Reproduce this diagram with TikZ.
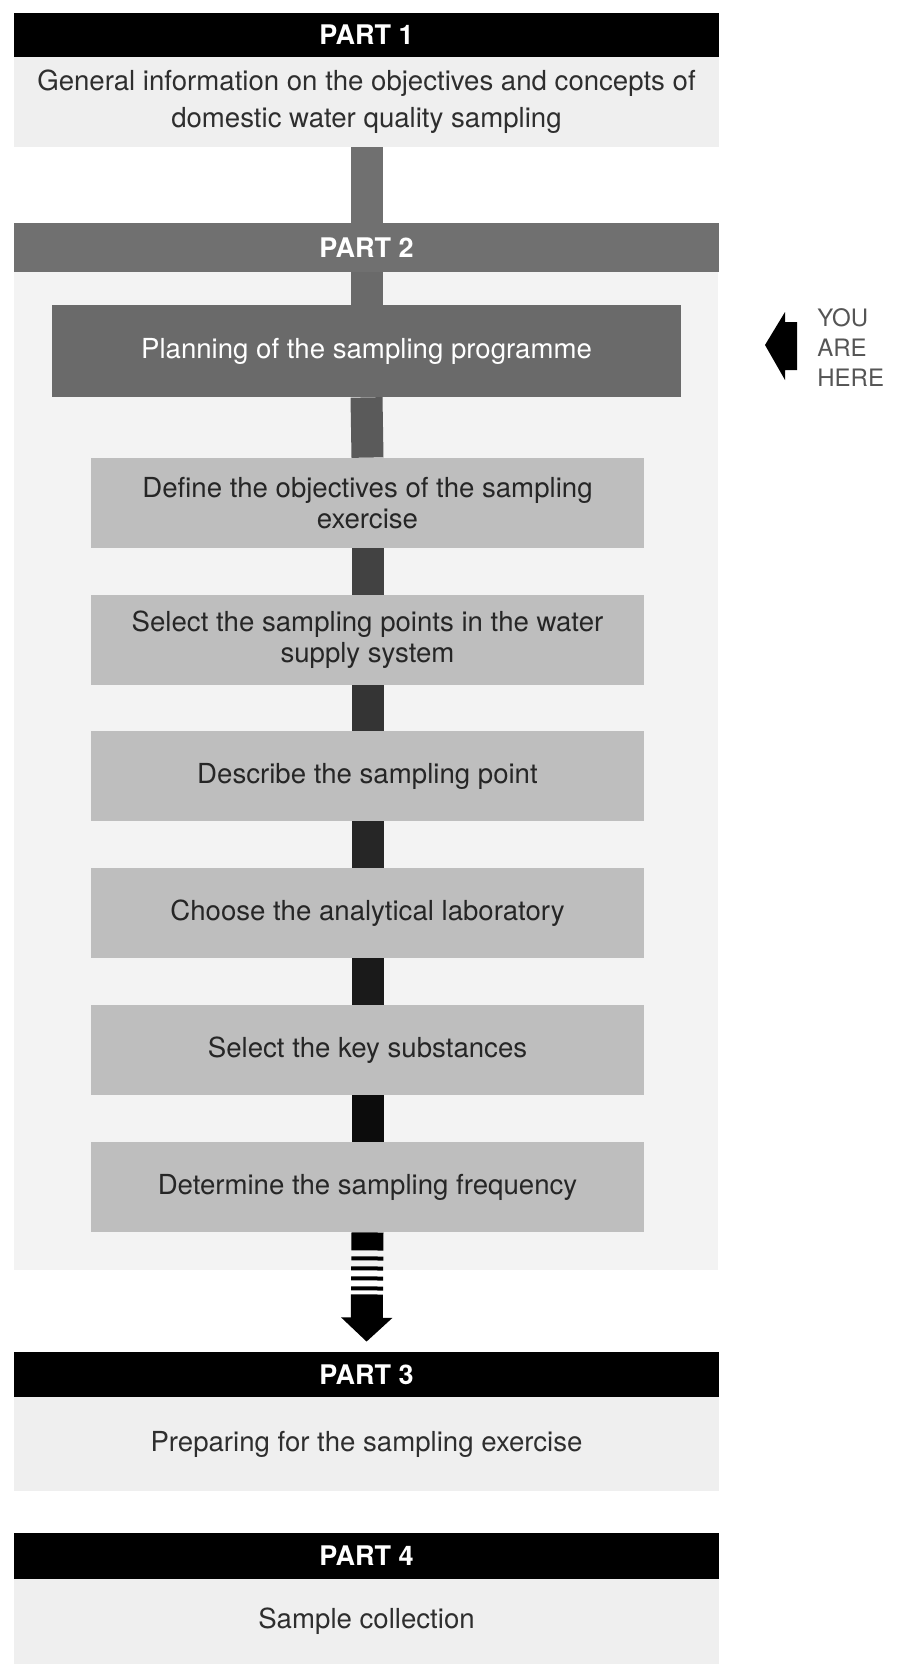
\documentclass[tikz,border=0pt]{standalone}
\usepackage{fontspec}
\setmainfont{TeX Gyre Heros}
\usepackage{tikz}
\usetikzlibrary{arrows.meta}

\definecolor{midbar}{HTML}{707070}
\definecolor{planbox}{HTML}{6A6A6A}
\definecolor{stepbox}{HTML}{BEBEBE}
\definecolor{panel}{HTML}{EFEFEF}
\definecolor{panelB}{HTML}{F3F3F3}
\definecolor{inktext}{HTML}{2E2E2E}
\definecolor{heretext}{HTML}{555555}

\begin{document}
\begin{tikzpicture}[x=0.5pt,y=-0.5pt,
  bar/.style={fill=black,text=white,inner sep=0pt,minimum width=352.5pt,
    font=\fontsize{13.5}{16}\selectfont\bfseries},
  body/.style={fill=panel,text=inktext,inner sep=0pt,minimum width=352.5pt,
    align=center,font=\fontsize{13.8}{18.5}\selectfont},
  stepnode/.style={fill=stepbox,text=black!85,inner sep=0pt,minimum width=276.5pt,
    minimum height=45pt,align=center,font=\fontsize{13.8}{15.5}\selectfont},
  spine/.style={line width=16pt},
  flowdash/.style={line width=16pt,
    dash pattern=on 9pt off 3pt on 2pt off 3pt on 2pt off 3pt on 2pt off 3pt on 2pt off 2pt on 40pt off 0pt,
    -{Triangle[width=25pt,length=12pt]},shorten >=5pt}]
\useasboundingbox (0,0) rectangle (899,1664);
% Reference grid (temporary)
%\draw[help lines,step=100] (0,0) grid (899,1664);

% Part 2 background
\fill[panelB] (14,272) rectangle (718,1270);

% Part headers
\node[bar,minimum height=22pt] (part1) at (366.5,35) {PART 1};
\node[body,minimum height=45pt] (body1) at (366.5,102)
  {General information on the objectives and concepts of\\domestic water quality sampling};
\node[bar,fill=midbar,minimum height=24.5pt] (part2) at (366.5,247.5) {PART 2};

% Planning box
\node[stepnode,fill=planbox,text=white,minimum width=314.5pt,minimum height=46pt] (plan)
  at (366.5,351) {Planning of the sampling programme};

% Steps
\foreach \name/\y/\txt in {
  define/503/{Define the objectives of the sampling\\exercise},
  points/640/{Select the sampling points in the water\\supply system},
  describe/776/{Describe the sampling point},
  lab/913/{Choose the analytical laboratory},
  keysub/1050/{Select the key substances},
  freq/1187/{Determine the sampling frequency}} {
  \node[stepnode] (\name) at (367.5,\y) {\txt};
}

% Spine, getting darker on the way down
\foreach \a/\b/\c in {body1/part2/112, part2/plan/106, plan/define/90,
  define/points/66, points/describe/52, describe/lab/38, lab/keysub/26, keysub/freq/12} {
  \definecolor{segcol}{RGB}{\c,\c,\c}
  \draw[spine,segcol] (\a.south) -- (\b.north);
}

% Parts 3 and 4
\node[bar,minimum height=22.5pt] (part3) at (366.5,1374.5) {PART 3};
\node[body,minimum height=47pt] (body3) at (366.5,1444) {Preparing for the sampling exercise};
\node[bar,minimum height=23pt] (part4) at (366.5,1556) {PART 4};
\node[body,minimum height=42.5pt] (body4) at (366.5,1621.5) {Sample collection};

% Exit arrow
\draw[flowdash] (freq.south) -- (part3.north);

% You are here
\node[anchor=west,align=left,text=heretext,inner sep=0pt,
  font=\fontsize{12}{15}\selectfont] (here) at (817,348) {YOU\\ARE\\HERE};
\fill (765,345) -- (785,312) -- (785,322) -- (797,322) -- (797,370)
  -- (785,370) -- (785,380) -- cycle;

\end{tikzpicture}
\end{document}
